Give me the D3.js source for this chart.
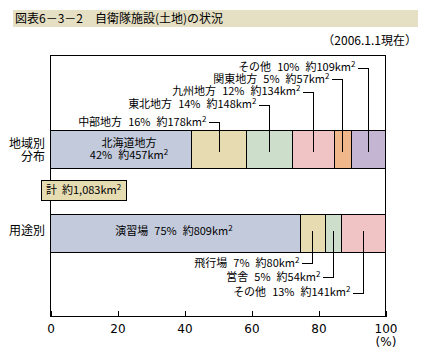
<!DOCTYPE html>
<html><head><meta charset="utf-8">
<script src="https://cdn.jsdelivr.net/npm/d3@7"></script>
<style>
html,body{margin:0;padding:0;background:#fff;}
svg{display:block;font-family:"Noto Sans CJK JP","Noto Sans",sans-serif;}
</style></head>
<body>
<script>
// ---- data ----
const regionNames = ["北海道地方","中部地方","東北地方","九州地方","関東地方","その他"];
const regionPct   = [42,16,14,12,5,10];
const regionArea  = [457,178,148,134,57,109];
const usageNames  = ["演習場","飛行場","営舎","その他"];
const usagePct    = [75,7,5,13];
const usageArea   = [809,80,54,141];
const totalLabel  = "1,083";
const xTicks      = [0,20,40,60,80,100];
const palette     = ["#C3CADC","#E6DBB1","#CDDFCB","#F0C3C5","#F0B78A","#C4B5D3"];

const W = 428, H = 358;
const svg = d3.select("body").append("svg").attr("width", W).attr("height", H);

const x = d3.scaleLinear().domain([0,100]).range([50,385]);
const yCat = d3.scaleBand().domain(["region","usage"]).range([130,251]).paddingInner(1.2);
// ---- title ----
svg.append("rect").attr("x",13).attr("y",10).attr("width",405).attr("height",17).attr("fill","#E5DFC4");
svg.append("text").attr("x",15).attr("y",18.5).attr("dy","0.36em")
  .attr("font-size",12).text("図表6－3－2　自衛隊施設(土地)の状況");
svg.append("text").attr("x",417).attr("y",41).attr("dy","0.36em").attr("text-anchor","end")
  .attr("font-size",12).text("（2006.1.1現在）");

function stack(vals){
  const tot = d3.sum(vals); let c = 0;
  return vals.map(v => { const s = c; c += v; return {x0: s/tot*100, x1: c/tot*100}; });
}
const regSeg = stack(regionArea);
const useSeg = stack(usageArea);

const barH = 37.5;
const regY = 130.5, useY = 214.5;

function drawBar(segs, y0){
  svg.append("g").selectAll("rect").data(segs).join("rect")
    .attr("x", d => Math.round(x(d.x0))+0.5)
    .attr("y", y0)
    .attr("width", d => Math.round(x(d.x1)) - Math.round(x(d.x0)))
    .attr("height", barH)
    .attr("fill", (d,i) => palette[i])
    .attr("stroke","#000").attr("stroke-width",1)
    .attr("shape-rendering","crispEdges");
}
drawBar(regSeg, regY);
drawBar(useSeg, useY);

// frame
svg.append("rect").attr("x",50.5).attr("y",55.5).attr("width",335).attr("height",261)
  .attr("fill","none").attr("stroke","#000").attr("shape-rendering","crispEdges");

// axis
const axis = d3.axisBottom(x).tickValues(xTicks).tickSizeInner(-6).tickSizeOuter(0).tickPadding(8);
const ag = svg.append("g").attr("transform","translate(0.5,316.5)").call(axis);
ag.select(".domain").remove();
ag.selectAll(".tick line").attr("stroke","#000").attr("shape-rendering","crispEdges");
ag.selectAll(".tick text").attr("font-size",12).attr("fill","#000")
  .attr("font-family",'"DejaVu Sans",sans-serif');
svg.append("text").attr("x",386).attr("y",342).attr("dy","0.36em").attr("text-anchor","middle")
  .attr("font-size",12).attr("font-family",'"DejaVu Sans",sans-serif').text("(%)");

// label builder
function label(g, px, py, anchor, name, pct, area, fs){
  const t = g.append("text").attr("x",px).attr("y",py).attr("dy","0.36em")
    .attr("text-anchor",anchor).attr("font-size",fs||11);
  if (name !== null) t.append("tspan").text(name);
  t.append("tspan").attr("dx", name!==null?6:0).text(pct + "%");
  t.append("tspan").attr("dx",6).text("約" + area + "km");
  t.append("tspan").attr("font-size",8).attr("dy",-4).text("2");
  return t;
}

const lg = svg.append("g");
// left category labels
svg.append("text").attr("x",45).attr("y",144).attr("dy","0.36em").attr("text-anchor","end").attr("font-size",12).text("地域別");
svg.append("text").attr("x",45).attr("y",157).attr("dy","0.36em").attr("text-anchor","end").attr("font-size",12).text("分布");
svg.append("text").attr("x",45).attr("y",231).attr("dy","0.36em").attr("text-anchor","end").attr("font-size",12).text("用途別");

// Hokkaido inside label
svg.append("text").attr("x",129).attr("y",143).attr("dy","0.36em").attr("text-anchor","middle").attr("font-size",11).text(regionNames[0]);
label(svg, 129, 155.5, "middle", null, regionPct[0], regionArea[0]);

// region callouts
const regLabelY = [null, 122, 104.5, 91.5, 79, 67.5];
const regLineBottom = 152;
regSeg.forEach((d,i) => {
  if (i === 0) return;
  const cx = Math.round(x((d.x0+d.x1)/2)) + 0.5;
  const ly = Math.round(regLabelY[i]) + 0.5;
  lg.append("path").attr("d", `M${cx},${regLineBottom}V${ly}H${cx-11}`)
    .attr("fill","none").attr("stroke","#000").attr("shape-rendering","crispEdges");
  label(lg, cx-13, regLabelY[i], "end", regionNames[i], regionPct[i], regionArea[i]);
});

// usage inside label
label(svg, 174, 231, "middle", usageNames[0], usagePct[0], usageArea[0]);

// usage callouts
const useLabelY = [null, 263, 277, 292.5];
const useLineTop = 231;
useSeg.forEach((d,i) => {
  if (i === 0) return;
  const cx = Math.round(x((d.x0+d.x1)/2)) + 0.5;
  const ly = Math.round(useLabelY[i]) + 0.5;
  lg.append("path").attr("d", `M${cx},${useLineTop}V${ly}H${cx-11}`)
    .attr("fill","none").attr("stroke","#000").attr("shape-rendering","crispEdges");
  label(lg, cx-13, useLabelY[i], "end", usageNames[i], usagePct[i], usageArea[i]);
});

// total box
svg.append("rect").attr("x",41.5).attr("y",180.5).attr("width",85).attr("height",20)
  .attr("fill","#E6DCB2").attr("stroke","#000").attr("shape-rendering","crispEdges");
const tt = svg.append("text").attr("x",46).attr("y",190.5).attr("dy","0.36em").attr("font-size",11);
tt.append("tspan").text("計");
tt.append("tspan").attr("dx",5).text("約" + totalLabel + "km");
tt.append("tspan").attr("font-size",8).attr("dy",-4).text("2");
</script>
</body></html>
